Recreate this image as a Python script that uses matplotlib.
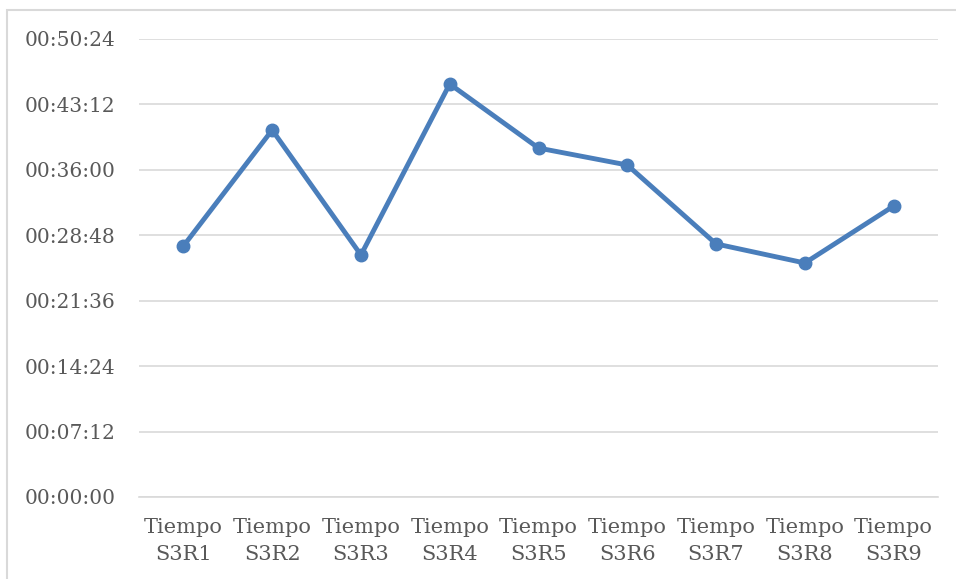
import matplotlib.pyplot as plt
from matplotlib.patches import Rectangle

# tiempos en segundos
categorias = ["Tiempo\nS3R1", "Tiempo\nS3R2", "Tiempo\nS3R3", "Tiempo\nS3R4", "Tiempo\nS3R5",
              "Tiempo\nS3R6", "Tiempo\nS3R7", "Tiempo\nS3R8", "Tiempo\nS3R9"]
tiempos = [1657, 2423, 1598, 2727, 2304, 2192, 1671, 1545, 1921]
ticks_y = [0, 432, 864, 1296, 1728, 2160, 2592, 3024]


def hms(s):
    return "%02d:%02d:%02d" % (s // 3600, (s % 3600) // 60, s % 60)


plt.rcParams['font.family'] = ['DejaVu Serif']
fig = plt.figure(figsize=(9.56, 5.79), dpi=100)
ax = fig.add_axes([139 / 956, 1 - 497 / 579, (938 - 139) / 956, (497 - 39) / 579])

# marco gris del área del gráfico (sale por la derecha y por abajo)
fig.patches.append(Rectangle((7 / 956, -0.1), 1.2, 1 - 10 / 579 + 0.1,
                             transform=fig.transFigure, fill=False,
                             edgecolor="#d9d9d9", linewidth=1.5))

x = list(range(len(categorias)))
ax.plot(x, tiempos, color="#4a7ebb", linewidth=3.5, marker='o', markersize=9, zorder=3)

ax.set_xlim(-0.5, len(categorias) - 0.5)
ax.set_ylim(0, 3024)
ax.set_yticks(ticks_y)
ax.set_yticklabels([hms(t) for t in ticks_y])
ax.set_xticks(x)
ax.set_xticklabels(categorias, linespacing=1.55)
ax.grid(axis='y', color="#d9d9d9", linewidth=1.2)
ax.set_axisbelow(True)
for s in ["top", "right", "left"]:
    ax.spines[s].set_visible(False)
ax.spines["bottom"].set_color("#d9d9d9")
ax.spines["bottom"].set_linewidth(1.2)
ax.tick_params(axis='both', length=0, labelsize=15, colors="#595959")
ax.tick_params(axis='y', labelsize=14.5, pad=17)
ax.tick_params(axis='x', pad=15)

fig.savefig("out.png", dpi=100)
